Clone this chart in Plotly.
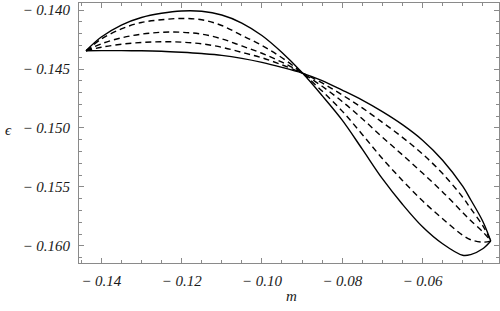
import plotly.graph_objects as go

# m values (x grid)
m = [-0.1438, -0.140, -0.135, -0.130, -0.125, -0.120, -0.115, -0.110, -0.105, -0.100,
     -0.095, -0.090, -0.085, -0.080, -0.075, -0.070, -0.065, -0.060, -0.055, -0.050,
     -0.048, -0.045, -0.043]

# upper solid curve on the left (deepest dip on the right)
eps_a = [-0.143454, -0.142291, -0.141273, -0.140636, -0.140280, -0.140085, -0.140110, -0.140424,
         -0.141103, -0.142164, -0.143606, -0.145303, -0.147255, -0.149334, -0.151795, -0.154298,
         -0.156462, -0.158371, -0.159813, -0.160789, -0.160730, -0.160237, -0.159576]

# dashed curves
eps_d1 = [-0.143454, -0.142464, -0.141599, -0.141059, -0.140826, -0.140714, -0.140826, -0.141315,
          -0.142155, -0.143004, -0.144047, -0.145320, -0.146873, -0.148570, -0.150547, -0.152592,
          -0.154442, -0.156173, -0.157692, -0.159092, -0.159474, -0.159677, -0.159576]

eps_d2 = [-0.143454, -0.142868, -0.142359, -0.142045, -0.141888, -0.141885, -0.142044, -0.142444,
          -0.143046, -0.143666, -0.144421, -0.145329, -0.146466, -0.147755, -0.149215, -0.150776,
          -0.152278, -0.153823, -0.155418, -0.157157, -0.157845, -0.158795, -0.159576]

eps_d3 = [-0.143454, -0.143157, -0.142902, -0.142749, -0.142692, -0.142725, -0.142867, -0.143157,
          -0.143589, -0.144047, -0.144650, -0.145337, -0.146186, -0.147196, -0.148299, -0.149521,
          -0.150793, -0.152202, -0.153865, -0.155867, -0.156826, -0.158277, -0.159576]

# lower solid curve on the left (outermost on the right)
eps_b = [-0.143454, -0.143445, -0.143445, -0.143454, -0.143496, -0.143581, -0.143691, -0.143844,
         -0.144098, -0.144438, -0.144862, -0.145346, -0.145982, -0.146788, -0.147637, -0.148613,
         -0.149716, -0.151031, -0.152728, -0.154934, -0.156080, -0.157904, -0.159576]

x_ticks = [-0.14, -0.12, -0.10, -0.08, -0.06]
x_labels = ["<i>\u2212 0.14</i>", "<i>\u2212 0.12</i>", "<i>\u2212 0.10</i>", "<i>\u2212 0.08</i>", "<i>\u2212 0.06</i>"]
y_ticks = [-0.140, -0.145, -0.150, -0.155, -0.160]
y_labels = ["<i>\u2212 0.140</i>", "<i>\u2212 0.145</i>", "<i>\u2212 0.150</i>", "<i>\u2212 0.155</i>", "<i>\u2212 0.160</i>"]

fig = go.Figure()
series = [(eps_a, "solid"), (eps_d1, "6px,4px"), (eps_d2, "6px,4px"), (eps_d3, "6px,4px"), (eps_b, "solid")]
for ys, dash in series:
    fig.add_trace(go.Scatter(x=m, y=ys, mode="lines",
                             line=dict(color="black", width=1.4, dash=dash, shape="spline", smoothing=1.0),
                             showlegend=False, hoverinfo="skip"))

font = dict(family="Liberation Serif", size=15, color="#1a1a1a")
frame = "#8a8a8a"
L, R, T, B = 79, 1, 3, 48
fig.update_layout(
    width=500, height=311,
    margin=dict(l=L, r=R, t=T, b=B, autoexpand=False),
    paper_bgcolor="white", plot_bgcolor="white",
    xaxis=dict(range=[-0.14555, -0.04095], tickmode="array", tickvals=x_ticks, ticktext=x_labels,
               ticks="inside", ticklen=5, tickcolor=frame, tickwidth=1,
               showline=True, linecolor=frame, linewidth=1, mirror="ticks",
               showgrid=False, zeroline=False, tickfont=font, ticklabelstandoff=4,
               minor=dict(dtick=0.005, tick0=0, ticks="inside", ticklen=3, tickcolor=frame, showgrid=False)),
    yaxis=dict(range=[-0.161443, -0.139406], tickmode="array", tickvals=y_ticks, ticktext=y_labels,
               ticks="inside", ticklen=5, tickcolor=frame, tickwidth=1,
               showline=True, linecolor=frame, linewidth=1, mirror="ticks",
               showgrid=False, zeroline=False, tickfont=font, ticklabelstandoff=5,
               minor=dict(dtick=0.001, tick0=0, ticks="inside", ticklen=3, tickcolor=frame, showgrid=False)),
)
plot_w = 500 - L - R
plot_h = 311 - T - B
fig.add_annotation(text="<i>\u03f5</i>", x=(8 - L) / plot_w, y=(311 - B - 130) / plot_h,
                   xref="paper", yref="paper", showarrow=False, xanchor="center", yanchor="middle",
                   font=dict(family="Liberation Serif", size=15, color="#1a1a1a"))
fig.add_annotation(text="<i>m</i>", x=(291 - L) / plot_w, y=(311 - B - 296) / plot_h,
                   xref="paper", yref="paper", showarrow=False, xanchor="center", yanchor="middle",
                   font=dict(family="Liberation Serif", size=15, color="#1a1a1a"))

fig.write_html("out.html", config={"displayModeBar": False},
               post_script="document.body.style.margin='0';document.body.style.padding='0';")
